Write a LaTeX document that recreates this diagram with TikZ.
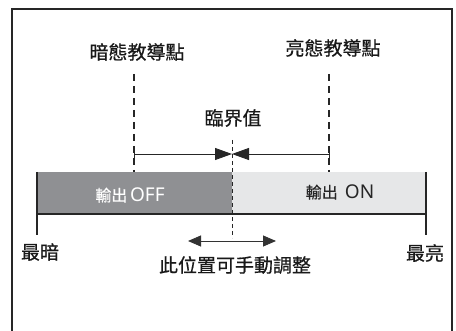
\documentclass[tikz,border=0pt]{standalone}
\usepackage{fontspec}
\newfontfamily\cjk{Noto Sans CJK TC}[FakeBold=0.6]
\newfontfamily\latn{Noto Sans}
\usetikzlibrary{arrows.meta}
\definecolor{darkbar}{HTML}{8F9093}
\definecolor{lightbar}{HTML}{E6E7E8}
\tikzset{
  lbl/.style={font=\cjk\fontsize{19}{19}\selectfont, inner sep=0pt, text=black!90},
  barlbl/.style={font=\cjk\fontsize{16}{16}\selectfont, inner sep=0pt},
  teachline/.style={line width=1.8pt, dash pattern=on 7pt off 5pt, black!85},
  critline/.style={line width=0.8pt, dash pattern=on 4pt off 3pt, black!85},
  tri/.style={-{Triangle[length=17pt,width=12pt]}, line width=0.9pt, black!85},
}
\newcommand{\bigLatin}[1]{{\latn\fontsize{19}{19}\selectfont #1}}
\begin{document}
\begin{tikzpicture}[x=1pt,y=-1pt]
\useasboundingbox (0,0) rectangle (456,331);
% frame
\draw[line width=1.5pt, black!85] (12,333) -- (12,9) -- (452,9) -- (452,333);
% bar
\fill[darkbar] (37,172) rectangle (232,214);
\fill[lightbar] (232,172) rectangle (426,214);
\coordinate (bl) at (37,214);
\coordinate (br) at (426,214);
\coordinate (tl) at (37,172);
\coordinate (tr) at (426,172);
\coordinate (tlb) at (37,235);
\coordinate (trb) at (426,235);
\draw[line width=1.8pt, black!85] (bl) -- (br);
\draw[line width=1.5pt, black!85] (tl) -- (tlb);
\draw[line width=1.5pt, black!85] (tr) -- (trb);
% labels
\node[lbl] (dark) at (137,52) {暗態教導點};
\node[lbl] (bright) at (333,48) {亮態教導點};
\node[lbl] (crit) at (233,118) {臨界值};
\node[barlbl, text=white] (off) at (130,195) {輸出\,\bigLatin{OFF}};
\node[barlbl, text=black!85] (on) at (340,192) {輸出\ \ \bigLatin{ON}};
\node[lbl] (min) at (40,252) {最暗};
\node[lbl] (max) at (425,253) {最亮};
\node[lbl] (adj) at (235,265) {此位置可手動調整};
% teach lines
\coordinate (dt) at (134,74);
\coordinate (db) at (134,172);
\coordinate (bt) at (329,74);
\coordinate (bb) at (329,172);
\draw[teachline] (dt) -- (db);
\draw[teachline] (bt) -- (bb);
% critical line
\coordinate (ct) at (232,140);
\coordinate (cb) at (232,238);
\draw[critline] (ct) -- (cb);
% horizontal arrows
\coordinate (al) at (134,154);
\coordinate (ar) at (329,154);
\coordinate (ac) at (232,154);
\draw[tri] (al) -- (ac);
\draw[tri] (ar) -- (ac);
\draw[line width=1pt, black!85] (134,150) -- (134,158);
\draw[line width=1pt, black!85] (329,150) -- (329,158);
% adjust arrow
\coordinate (jl) at (188,241);
\coordinate (jr) at (276,241);
\draw[{Triangle[length=13pt,width=11pt]}-{Triangle[length=13pt,width=11pt]}, line width=0.9pt, black!80] (jl) -- (jr);
\end{tikzpicture}
\end{document}
